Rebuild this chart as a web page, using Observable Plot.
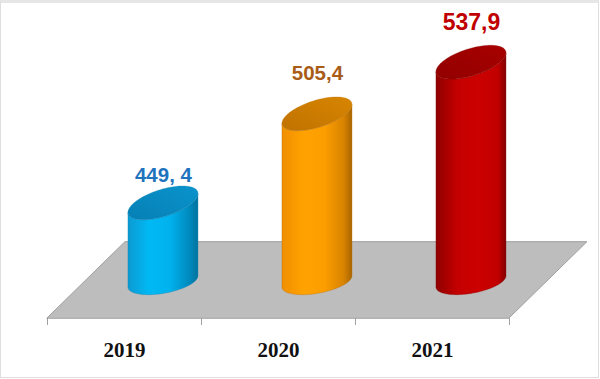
<!DOCTYPE html>
<html>
<head>
<meta charset="utf-8">
<script src="https://cdn.jsdelivr.net/npm/d3@7"></script>
<script src="https://cdn.jsdelivr.net/npm/@observablehq/plot@0.6"></script>
<style>
  html, body { margin: 0; padding: 0; background: #fff; }
  #wrap { position: relative; width: 600px; height: 379px; overflow: hidden; }
  #frame { position: absolute; left: 0; top: 0; width: 599px; height: 378px; box-sizing: border-box;
           border: 1px solid #dedede; border-top: 3px solid #e6e6e6; pointer-events: none; }
</style>
</head>
<body>
<div id="wrap"><div id="frame"></div></div>
<script>
// ---- data ----
const years = ["2019", "2020", "2021"];
const values = [449.4, 505.4, 537.9];
const valueLabels = ["449, 4", "505,4", "537,9"];
const labelColors = ["#1f74bd", "#a85c18", "#c00000"];

// ---- pseudo-3D floor (in chart units) ----
const baseValue = 400;      // value at cylinder base
const floorFront = 377;     // front edge of floor
const floorBack = 425;      // back edge of floor
const depth = 0.506;        // floor depth, in category units

const table = years.map((y, i) => ({i, year: y, value: values[i], label: valueLabels[i], color: labelColors[i]}));
const floor = [
  {y: floorFront, x1: -0.5, x2: years.length - 0.5},
  {y: floorBack, x1: -0.5 + depth, x2: years.length - 0.5 + depth}
];

const chart = Plot.plot({
  width: 600,
  height: 379,
  marginTop: 27,
  marginBottom: 61,
  marginLeft: 47,
  marginRight: 91,
  style: {background: "transparent", color: "#a0a0a0", overflow: "visible"},
  x: {domain: [-0.5, years.length - 0.5], ticks: d3.range(years.length + 1).map(k => k - 0.5),
      tickFormat: () => "", tickSize: 7, label: null},
  y: {domain: [floorFront, 560], axis: null},
  marks: [
    Plot.areaX(floor, {y: "y", x1: "x1", x2: "x2", fill: "#bdbdbd", stroke: "#9f9f9f", strokeWidth: 1}),
    Plot.text(table, {x: "i", y: () => floorFront, text: "year", dy: 32,
      fontFamily: "Liberation Serif, Times New Roman, serif", fontWeight: "bold", fontSize: 21, fill: "#111"}),
    Plot.text(table.filter(d => d.i === 0), {x: d => d.i + depth / 2, y: "value", text: "label", dy: -28,
      fill: "color", fontFamily: "Liberation Sans, Arial, sans-serif", fontWeight: "bold", fontSize: 20.5}),
    Plot.text(table.filter(d => d.i === 1), {x: d => d.i + depth / 2, y: "value", text: "label", dy: -41,
      fill: "color", fontFamily: "Liberation Sans, Arial, sans-serif", fontWeight: "bold", fontSize: 20.5}),
    Plot.text(table.filter(d => d.i === 2), {x: d => d.i + depth / 2, y: "value", text: "label", dy: -40,
      fill: "color", fontFamily: "Liberation Sans, Arial, sans-serif", fontWeight: "bold", fontSize: 23})
  ]
});

document.getElementById("wrap").insertBefore(chart, document.getElementById("frame"));

// ---- cylinders drawn through the chart's own scales ----
const sx = chart.scale("x"), sy = chart.scale("y");
const X = d3.scaleLinear(sx.domain, sx.range);
const Y = d3.scaleLinear(sy.domain, sy.range);

const styles = [
  {body: ["#0d9ad2", "#00b9f4", "#00b2ee", "#0089bd", "#00729e"], top: ["#0680b5", "#0a93cc"], edge: "#0a7fb0"},
  {body: ["#ef8f00", "#ffa200", "#fd9e00", "#d98400", "#a86400"], top: ["#c07200", "#d78500"], edge: "#b86e00"},
  {body: ["#8e0000", "#c40000", "#cc0000", "#c20000", "#840000"], top: ["#920000", "#a80000"], edge: "#800000"}
];

const svg = d3.select(chart);
const defs = svg.append("defs");
styles.forEach((s, k) => {
  const g = defs.append("linearGradient").attr("id", "body" + k).attr("x1", "0").attr("x2", "1").attr("y1", "0").attr("y2", "0");
  [0, 0.3, 0.6, 0.88, 1].forEach((o, j) => g.append("stop").attr("offset", o).attr("stop-color", s.body[j]));
  const t = defs.append("linearGradient").attr("id", "top" + k).attr("x1", "0").attr("x2", "1").attr("y1", "1").attr("y2", "0");
  t.append("stop").attr("offset", 0).attr("stop-color", s.top[0]);
  t.append("stop").attr("offset", 1).attr("stop-color", s.top[1]);
});

const a = 35;           // half width in px
const sTop = -0.27, bTop = 14;   // top ellipse shear & minor radius
const sBot = -0.16, bBot = 12;   // bottom ellipse shear & minor radius
function pt(cx, cy, b, s, th) {
  return [cx + a * Math.cos(th), cy + b * Math.sin(th) + s * a * Math.cos(th)];
}
const cyl = svg.append("g").attr("class", "cylinders");
table.forEach(d => {
  const cx = X(d.i + depth / 2);
  const yt = Y(d.value), yb = Y(baseValue);
  const k = d.i;
  const pts = [];
  pts.push(pt(cx, yt, bTop, sTop, Math.PI));
  for (let n = 0; n <= 60; n++) {
    const th = Math.PI - (Math.PI * n) / 60;
    pts.push(pt(cx, yb, bBot, sBot, th));
  }
  pts.push(pt(cx, yt, bTop, sTop, 0));
  for (let n = 0; n <= 60; n++) {
    const th = (Math.PI * n) / 60;
    pts.push(pt(cx, yt, bTop, sTop, th));
  }
  cyl.append("path").attr("d", "M" + pts.map(p => p.join(",")).join("L") + "Z")
    .attr("fill", `url(#body${k})`).attr("stroke", styles[k].edge).attr("stroke-width", 0.6).attr("stroke-opacity", 0.6);
  const top = [];
  for (let n = 0; n <= 120; n++) top.push(pt(cx, yt, bTop, sTop, (2 * Math.PI * n) / 120));
  cyl.append("path").attr("d", "M" + top.map(p => p.join(",")).join("L") + "Z")
    .attr("fill", `url(#top${k})`).attr("stroke", styles[k].edge).attr("stroke-width", 0.5).attr("stroke-opacity", 0.5);
});
</script>
</body>
</html>
